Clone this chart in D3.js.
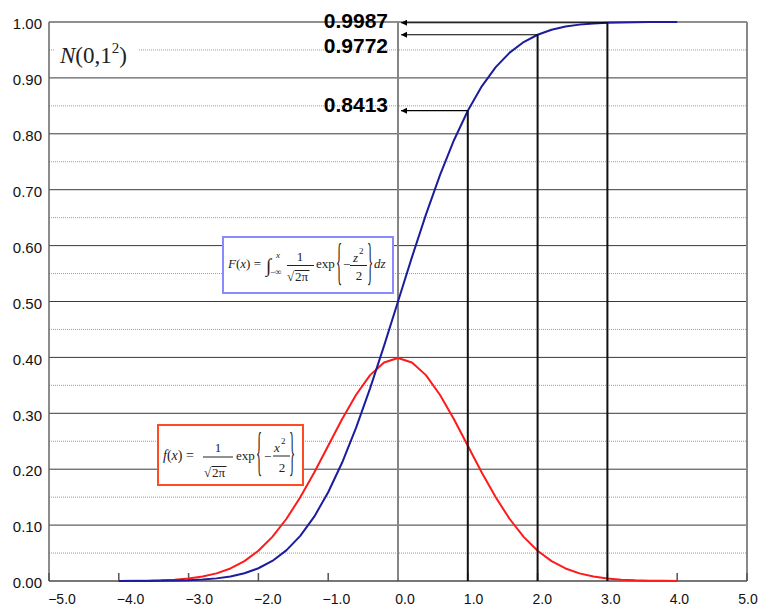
<!DOCTYPE html>
<html>
<head>
<meta charset="utf-8">
<script src="https://cdn.jsdelivr.net/npm/d3@7"></script>
<style>
  body { margin: 0; background: #fff; }
  .tick-label { font-family: "Liberation Sans", Arial, sans-serif; fill: #111; }
  .math { font-family: "Liberation Serif", "Times New Roman", serif; fill: #222; }
</style>
</head>
<body>
<svg id="chart" width="760" height="605"></svg>
<script>
// Standard normal N(0,1): sample points, density f(z) and distribution F(z)
const zValues = [-4.0, -3.8, -3.6, -3.4, -3.2, -3.0, -2.8, -2.6, -2.4, -2.2,
                 -2.0, -1.8, -1.6, -1.4, -1.2, -1.0, -0.8, -0.6, -0.4, -0.2,
                  0.0,  0.2,  0.4,  0.6,  0.8,  1.0,  1.2,  1.4,  1.6,  1.8,
                  2.0,  2.2,  2.4,  2.6,  2.8,  3.0,  3.2,  3.4,  3.6,  3.8, 4.0];
const densityValues = [0.0001, 0.0003, 0.0006, 0.0012, 0.0024, 0.0044, 0.0079, 0.0136, 0.0224, 0.0355,
                       0.0540, 0.0790, 0.1109, 0.1497, 0.1942, 0.2420, 0.2897, 0.3332, 0.3683, 0.3910,
                       0.3989, 0.3910, 0.3683, 0.3332, 0.2897, 0.2420, 0.1942, 0.1497, 0.1109, 0.0790,
                       0.0540, 0.0355, 0.0224, 0.0136, 0.0079, 0.0044, 0.0024, 0.0012, 0.0006, 0.0003, 0.0001];
const cumulativeValues = [0.0000, 0.0001, 0.0002, 0.0003, 0.0007, 0.0013, 0.0026, 0.0047, 0.0082, 0.0139,
                          0.0228, 0.0359, 0.0548, 0.0808, 0.1151, 0.1587, 0.2119, 0.2743, 0.3446, 0.4207,
                          0.5000, 0.5793, 0.6554, 0.7257, 0.7881, 0.8413, 0.8849, 0.9192, 0.9452, 0.9641,
                          0.9772, 0.9861, 0.9918, 0.9953, 0.9974, 0.9987, 0.9993, 0.9997, 0.9998, 0.9999, 1.0000];

// Marked quantiles z = 1, 2, 3 and their probabilities
const markedZ = [1, 2, 3];
const markedP = [0.8413, 0.9772, 0.9987];

// Axis ticks
const xTickValues = [-5, -4, -3, -2, -1, 0, 1, 2, 3, 4, 5];
const yTickValues = [0, 0.1, 0.2, 0.3, 0.4, 0.5, 0.6, 0.7, 0.8, 0.9, 1.0];
const yMinorValues = [0.05, 0.15, 0.25, 0.35, 0.45, 0.55, 0.65, 0.75, 0.85, 0.95];

const svg = d3.select("#chart");
const x = d3.scaleLinear().domain([-5, 5]).range([49, 747]);
const y = d3.scaleLinear().domain([0, 1]).range([581, 22]);
// category-style label placement used by the x axis text
const xLabelPos = d3.scaleLinear().domain([-5, 5]).range([62, 748]);

const [x0, x1] = x.range();

// minor (dotted) gridlines
svg.append("g").selectAll("line").data(yMinorValues).join("line")
  .attr("x1", x0).attr("x2", x1)
  .attr("y1", d => y(d)).attr("y2", d => y(d))
  .attr("stroke", "#9a9a9a").attr("stroke-width", 1).attr("stroke-dasharray", "1,1");

// major gridlines
svg.append("g").selectAll("line").data(yTickValues.filter(d => d > 0 && d < 1)).join("line")
  .attr("x1", x0).attr("x2", x1)
  .attr("y1", d => y(d)).attr("y2", d => y(d))
  .attr("stroke", "#3a3a3a").attr("stroke-width", 1);

// plot frame
svg.append("line").attr("x1", x0).attr("x2", x1).attr("y1", y(1)).attr("y2", y(1))
  .attr("stroke", "#6a6a6a").attr("stroke-width", 1.5);
svg.append("line").attr("x1", x1).attr("x2", x1).attr("y1", y(1)).attr("y2", y(0))
  .attr("stroke", "#888").attr("stroke-width", 2);
svg.append("line").attr("x1", x0).attr("x2", x0).attr("y1", y(1)).attr("y2", y(0))
  .attr("stroke", "#666").attr("stroke-width", 1.5);

// x tick marks (inside, pointing up)
svg.append("g").selectAll("line").data(xTickValues).join("line")
  .attr("x1", d => x(d)).attr("x2", d => x(d))
  .attr("y1", y(0)).attr("y2", y(0) - 8)
  .attr("stroke", "#555").attr("stroke-width", 1.5);

// z = 0 reference line
svg.append("line").attr("x1", x(0)).attr("x2", x(0)).attr("y1", y(0)).attr("y2", y(1))
  .attr("stroke", "#858585").attr("stroke-width", 2);

// bottom axis line
svg.append("line").attr("x1", x0).attr("x2", x1).attr("y1", y(0)).attr("y2", y(0))
  .attr("stroke", "#4a4a4a").attr("stroke-width", 1.5);

// y axis labels
const yAxis = d3.axisLeft(y).tickValues(yTickValues).tickFormat(d3.format(".2f")).tickSize(0).tickPadding(7);
const yg = svg.append("g").attr("transform", `translate(${x0},0)`).call(yAxis);
yg.select(".domain").remove();
yg.selectAll("text").attr("class", "tick-label").attr("font-size", 15).attr("dy", "0.45em");

// x axis labels
svg.append("g").selectAll("text").data(xTickValues).join("text")
  .attr("class", "tick-label").attr("font-size", 14).attr("text-anchor", "middle")
  .attr("x", d => xLabelPos(d)).attr("y", 603.5)
  .text(d => d3.format(".1f")(d).replace("-", "\u2212"));

// curves
const pts = (vals) => zValues.map((z, i) => [z, vals[i]]);
const line = d3.line().x(d => x(d[0])).y(d => y(d[1]));
svg.append("path").attr("d", line(pts(densityValues)))
  .attr("fill", "none").attr("stroke", "#ff1a1a").attr("stroke-width", 2).attr("stroke-linejoin", "round");
svg.append("path").attr("d", line(pts(cumulativeValues)))
  .attr("fill", "none").attr("stroke", "#1c1c9c").attr("stroke-width", 2).attr("stroke-linejoin", "round");

// vertical drop lines at z = 1, 2, 3
svg.append("g").selectAll("line").data(markedZ).join("line")
  .attr("x1", d => x(d)).attr("x2", d => x(d))
  .attr("y1", y(0)).attr("y2", (d, i) => y(markedP[i]))
  .attr("stroke", "#111").attr("stroke-width", 2);

// arrows pointing to the probability axis
svg.append("defs").append("marker")
  .attr("id", "arrowhead").attr("viewBox", "0 0 10 10").attr("refX", 10).attr("refY", 5)
  .attr("markerWidth", 8).attr("markerHeight", 6).attr("markerUnits", "userSpaceOnUse")
  .attr("orient", "auto")
  .append("path").attr("d", "M0,0 L10,5 L0,10 Z").attr("fill", "#000");
svg.append("g").selectAll("line").data(markedZ).join("line")
  .attr("x1", d => x(d)).attr("x2", x(0) + 3)
  .attr("y1", (d, i) => y(markedP[i])).attr("y2", (d, i) => y(markedP[i]))
  .attr("stroke", "#000").attr("stroke-width", 1.2).attr("marker-end", "url(#arrowhead)");

// probability labels
const labelDy = [1, 18, 5];
svg.append("g").selectAll("text").data(markedP).join("text")
  .attr("x", 388).attr("y", (d, i) => y(d) + labelDy[i])
  .attr("text-anchor", "end")
  .attr("font-family", "'Liberation Sans', Arial, sans-serif").attr("font-weight", "bold")
  .attr("font-size", 21).attr("fill", "#000")
  .text(d => d3.format(".4f")(d));

// N(0,1^2) label
svg.append("rect").attr("x", 55).attr("y", 40).attr("width", 84).attr("height", 28).attr("fill", "#fff");
const nText = svg.append("text").attr("class", "math").attr("x", 60).attr("y", 63)
  .attr("font-size", 23).attr("fill", "#444");
nText.append("tspan").attr("font-style", "italic").text("N");
nText.append("tspan").text("(0,1");
nText.append("tspan").attr("font-size", 15).attr("dy", -10).text("2");
nText.append("tspan").attr("dy", 10).text(")");

// --- formula helpers ---
function mtext(g, str, px, py, size, opts = {}) {
  const t = g.append("text").attr("class", "math").attr("x", px).attr("y", py).attr("font-size", size);
  if (opts.italic) t.attr("font-style", "italic");
  if (opts.anchor) t.attr("text-anchor", opts.anchor);
  t.text(str);
  return t;
}
function hline(g, xa, xb, yy) {
  g.append("line").attr("x1", xa).attr("x2", xb).attr("y1", yy).attr("y2", yy)
    .attr("stroke", "#222").attr("stroke-width", 1);
}
// tall, thin curly brace: small glyph stretched vertically
function brace(g, ch, px, top, bottom) {
  const fs = 16;
  const sy = (bottom - top) / (0.86 * fs);
  g.append("text").attr("class", "math").attr("font-size", fs)
    .attr("transform", `translate(${px},${top + 0.69 * fs * sy}) scale(0.8,${sy})`)
    .text(ch);
}
function radical(g, px, py, size, body) {
  const r = mtext(g, "\u221A", px, py, size);
  const rb = r.node().getBBox();
  const b = mtext(g, body, rb.x + rb.width, py, size);
  const bb = b.node().getBBox();
  hline(g, rb.x + rb.width - 0.5, bb.x + bb.width + 1, rb.y + 1.5);
}
function lhs(g, name, px, py, size) {
  const t = g.append("text").attr("class", "math").attr("x", px).attr("y", py).attr("font-size", size);
  t.append("tspan").attr("font-style", "italic").text(name);
  t.append("tspan").text("(");
  t.append("tspan").attr("font-style", "italic").text("x");
  t.append("tspan").text(") = ");
}

// distribution function box
const FB = svg.append("g").attr("transform", "translate(223,237)");
FB.append("rect").attr("width", 170).attr("height", 56).attr("fill", "#fff")
  .attr("stroke", "#8a8aff").attr("stroke-width", 2);
lhs(FB, "F", 5, 31, 13);
mtext(FB, "\u222B", 43, 35, 19);
mtext(FB, "x", 53, 21, 9, { italic: true });
mtext(FB, "\u2212\u221E", 47, 38, 9);
mtext(FB, "1", 77, 24, 13, { anchor: "middle" });
hline(FB, 64, 91, 28.5);
radical(FB, 64, 44, 13, "2\u03C0");
mtext(FB, "exp", 93, 31, 13);
brace(FB, "{", 113, 6, 50);
mtext(FB, "\u2212", 120, 32, 13);
mtext(FB, "z", 130, 25, 13, { italic: true });
mtext(FB, "2", 136, 17, 9);
hline(FB, 127, 144, 28.5);
mtext(FB, "2", 136, 43, 13, { anchor: "middle" });
brace(FB, "}", 144, 6, 50);
mtext(FB, "dz", 151, 31, 13, { italic: true });

// density function box
const fBox = svg.append("g").attr("transform", "translate(158,425)");
fBox.append("rect").attr("width", 145).attr("height", 60).attr("fill", "#fff")
  .attr("stroke", "#ff4a24").attr("stroke-width", 2);
lhs(fBox, "f", 5, 35, 14);
mtext(fBox, "1", 60, 27, 13, { anchor: "middle" });
hline(fBox, 45, 75, 32);
radical(fBox, 46, 52, 13, "2\u03C0");
mtext(fBox, "exp", 78, 35, 13);
brace(fBox, "{", 98, 8, 53);
mtext(fBox, "\u2212", 106, 36, 13);
mtext(fBox, "x", 116, 27, 13, { italic: true });
mtext(fBox, "2", 123, 19, 9);
hline(fBox, 115, 132, 31);
mtext(fBox, "2", 124, 47, 13, { anchor: "middle" });
brace(fBox, "}", 131, 8, 53);
</script>
</body>
</html>
